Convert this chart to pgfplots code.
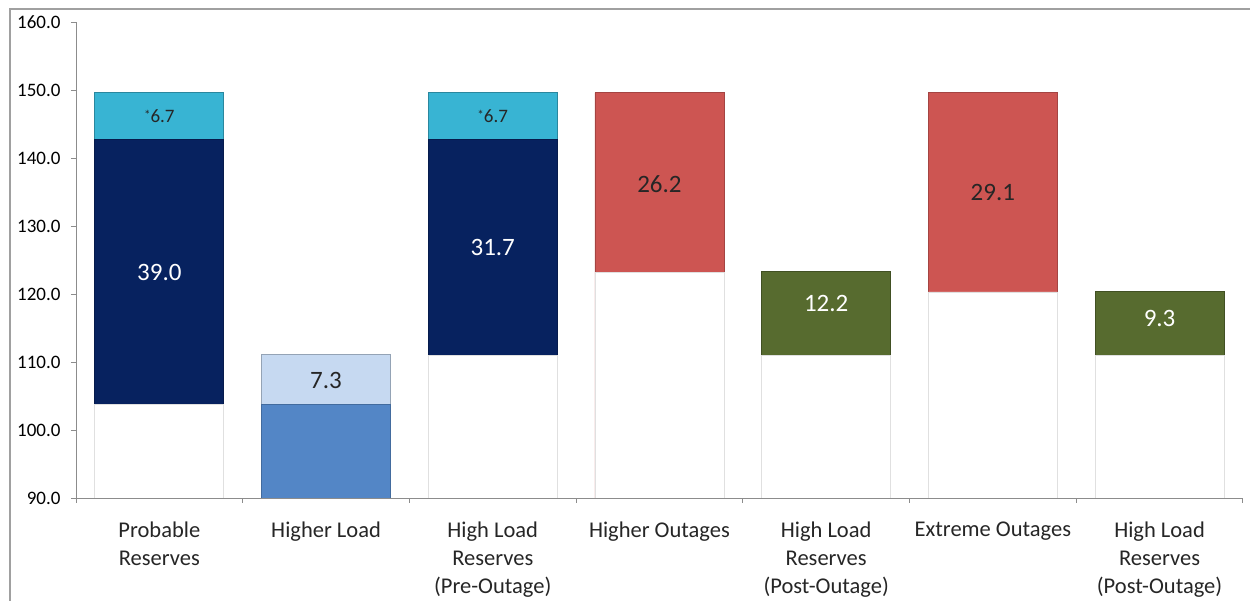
\documentclass[border=0pt]{standalone}
\usepackage{pgfplots}
\pgfplotsset{compat=1.18}
\usepackage{fontspec}
\setmainfont{Carlito}
\definecolor{navyc}{HTML}{07225F}
\definecolor{cyanc}{HTML}{38B4D3}
\definecolor{redc}{HTML}{CD5552}
\definecolor{greenc}{HTML}{576B2F}
\definecolor{bluec}{HTML}{5386C6}
\definecolor{lbluec}{HTML}{C6D9F1}
\definecolor{framec}{HTML}{A0A0A0}
\definecolor{axisc}{HTML}{8C8C8C}
\begin{document}
\begin{tikzpicture}[x=1pt,y=1pt]
\useasboundingbox (-76,-103) rectangle (1174,498);
\draw[framec, line width=1.3pt] (-66,-104) -- (-66,489) -- (1175,489);
\begin{axis}[
  at={(0,0)}, anchor=south west, scale only axis,
  width=1167pt, height=476pt,
  xmin=-0.5, xmax=6.5, ymin=90, ymax=160,
  axis lines*=left,
  axis line style={axisc, line width=0.9pt},
  ybar, bar width=129pt, bar shift=0pt,
  xtick={0,1,2,3,4,5,6},
  xticklabels={{Probable\\Reserves},{Higher Load},{High Load\\Reserves\\(Pre-Outage)},{Higher Outages},{High Load\\Reserves\\(Post-Outage)},{Extreme Outages},{High Load\\Reserves\\(Post-Outage)}},
  minor xtick={-0.5,0.5,1.5,2.5,3.5,4.5,5.5,6.5},
  major x tick style={draw=none},
  tick align=outside,
  major tick length=5pt, minor tick length=5pt,
  tick style={axisc, line width=0.9pt},
  ytick={90,100,110,120,130,140,150,160},
  /pgf/number format/fixed,
  /pgf/number format/fixed zerofill,
  /pgf/number format/precision=1,
  /pgf/number format/assume math mode=true,
  yticklabel style={font=\fontsize{19}{20}\selectfont, text=black, xshift=-7pt},
  xticklabel style={align=center, font=\fontsize{22.5}{28}\selectfont, text=black!85, yshift=-15pt},
  clip=true,
]
% cumulative tops, drawn tallest first
\addplot[fill=cyanc, draw=cyanc!75!black, line width=0.8pt] coordinates {(0,149.6) (2,149.6)};
\addplot[fill=redc, draw=redc!80!black, line width=0.8pt] coordinates {(3,149.6) (5,149.6)};
\addplot[fill=navyc, draw=navyc!80!black, line width=0.8pt] coordinates {(0,142.7) (2,142.7)};
\addplot[fill=greenc, draw=greenc!75!black, line width=0.8pt] coordinates {(4,123.3) (6,120.4)};
\addplot[fill=lbluec, draw=lbluec!75!black, line width=0.8pt] coordinates {(1,111.1)};
\addplot[fill=bluec, draw=bluec!80!black, line width=0.8pt] coordinates {(1,103.7)};
\addplot[fill=white, draw=black!12, line width=0.8pt] coordinates {(0,103.7) (2,111.0) (3,123.2) (4,111.0) (5,120.3) (6,111.0)};
% segment value labels
\node[font=\fontsize{25}{30}\selectfont, text=white] at (axis cs:0,123.2) {39.0};
\node[font=\fontsize{19}{22}\selectfont, text=black!85] at (axis cs:0,146.1) {\raisebox{0.2em}{\fontsize{13}{13}\selectfont *}6.7};
\node[font=\fontsize{25}{30}\selectfont, text=black!85] at (axis cs:1,107.35) {7.3};
\node[font=\fontsize{25}{30}\selectfont, text=white] at (axis cs:2,126.85) {31.7};
\node[font=\fontsize{19}{22}\selectfont, text=black!85] at (axis cs:2,146.1) {\raisebox{0.2em}{\fontsize{13}{13}\selectfont *}6.7};
\node[font=\fontsize{25}{30}\selectfont, text=black!85] at (axis cs:3,136.2) {26.2};
\node[font=\fontsize{25}{30}\selectfont, text=white] at (axis cs:4,118.6) {12.2};
\node[font=\fontsize{25}{30}\selectfont, text=black!85] at (axis cs:5,134.9) {29.1};
\node[font=\fontsize{25}{30}\selectfont, text=white] at (axis cs:6,116.4) {9.3};
\end{axis}
\end{tikzpicture}
\end{document}
